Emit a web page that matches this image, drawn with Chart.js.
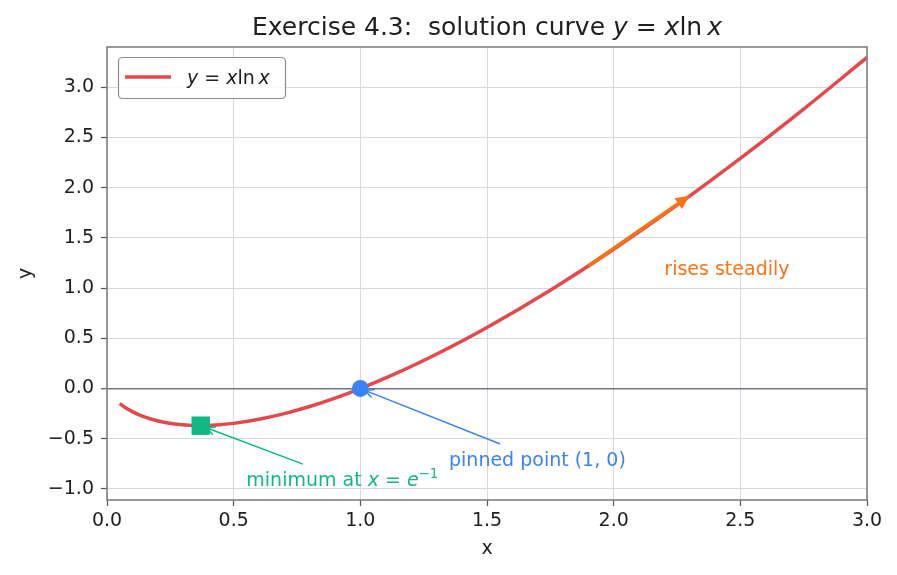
<!DOCTYPE html>
<html>
<head>
<meta charset="utf-8">
<script src="https://cdn.jsdelivr.net/npm/chart.js@4.4.1/dist/chart.umd.min.js"></script>
<style>
  html, body { margin: 0; background: #fff; }
  #wrap { width: 897px; height: 575px; }
</style>
</head>
<body>
<div id="wrap"><canvas id="c" width="897" height="575"></canvas></div>
<script>
/* ─── Data ─────────────────────────────────────────────────────────────── */

const curveX = [0.05, 0.07, 0.10, 0.13, 0.17, 0.21, 0.26, 0.31, 0.37, 0.43, 0.50, 0.60, 0.70, 0.80, 0.90,
                1.00, 1.15, 1.30, 1.50, 1.75, 2.00, 2.25, 2.50, 2.75, 3.00];
const curveY = [-0.150, -0.186, -0.230, -0.265, -0.301, -0.328, -0.350, -0.363, -0.368, -0.363, -0.347,
                -0.306, -0.250, -0.179, -0.095, 0.000, 0.161, 0.341, 0.608, 0.979, 1.386, 1.825, 2.291, 2.782, 3.296];

const minPoint = [0.37, -0.37];     // green square
const pinPoint = [1.0, 0.0];        // blue dot
const riseFrom = [1.9, 1.22];       // orange arrow tail
const riseTo   = [2.3, 1.92];       // orange arrow head

const minLabelAt  = [0.55, -0.90];
const pinLabelAt  = [1.35, -0.70];
const riseLabelAt = [2.20, 1.20];

const xLimits = [0, 3];
const yLimits = [-1.11, 3.4];
const tickStep = 0.5;

/* ─── Styling ──────────────────────────────────────────────────────────── */

const FONT   = '"DejaVu Sans", sans-serif';
const RED    = '#e5484d';
const GREEN  = '#10b981';
const BLUE   = '#3b82f6';
const ORANGE = '#f97316';
const INK    = '#1f1f1f';
const gridC  = '#d6dadf';

/* ─── Small drawing helpers ───────────────────────────────────────────── */

function fontOf(p, size) {
    const s = p.sup ? size * 0.7 : size;
    return (p.i ? 'italic ' : '') + s + 'px ' + FONT;
}

function richWidth(ctx, parts, size) {
    let w = 0;
    for (const p of parts) { ctx.font = fontOf(p, size); w += ctx.measureText(p.t).width; }
    return w;
}

function drawRich(ctx, parts, x, y, size, color, align) {
    const w = richWidth(ctx, parts, size);
    let cx = align === 'center' ? x - w / 2 : x;
    ctx.fillStyle = color;
    ctx.textAlign = 'left';
    ctx.textBaseline = 'alphabetic';
    for (const p of parts) {
        ctx.font = fontOf(p, size);
        ctx.fillText(p.t, cx, p.sup ? y - size * 0.42 : y);
        cx += ctx.measureText(p.t).width;
    }
    return w;
}

function openArrow(ctx, x0, y0, x1, y1, color, lw) {
    const a = Math.atan2(y1 - y0, x1 - x0), L = 9, h = 0.45;
    ctx.save();
    ctx.strokeStyle = color; ctx.lineWidth = lw; ctx.lineCap = 'round';
    ctx.beginPath();
    ctx.moveTo(x0, y0); ctx.lineTo(x1, y1);
    ctx.moveTo(x1 - L * Math.cos(a - h), y1 - L * Math.sin(a - h));
    ctx.lineTo(x1, y1);
    ctx.lineTo(x1 - L * Math.cos(a + h), y1 - L * Math.sin(a + h));
    ctx.stroke();
    ctx.restore();
}

function filledArrow(ctx, x0, y0, x1, y1, color, lw) {
    const a = Math.atan2(y1 - y0, x1 - x0), L = 14, W = 6.5;
    const bx = x1 - L * Math.cos(a), by = y1 - L * Math.sin(a);
    ctx.save();
    ctx.strokeStyle = color; ctx.fillStyle = color; ctx.lineWidth = lw;
    ctx.beginPath(); ctx.moveTo(x0, y0); ctx.lineTo(bx, by); ctx.stroke();
    ctx.beginPath();
    ctx.moveTo(x1, y1);
    ctx.lineTo(bx + W * Math.sin(a), by - W * Math.cos(a));
    ctx.lineTo(bx - W * Math.sin(a), by + W * Math.cos(a));
    ctx.closePath(); ctx.fill();
    ctx.restore();
}

// label at a data point (left aligned, vertically centred) with an arrow to a target
function annotate(ctx, chart, parts, at, target, color, shrink) {
    const xs = chart.scales.x, ys = chart.scales.y, size = 19;
    const lx = xs.getPixelForValue(at[0]), ly = ys.getPixelForValue(at[1]);
    const w = drawRich(ctx, parts, lx, ly + size * 0.36, size, color, 'left');
    const cx = lx + w / 2, cy = ly;
    const tx = xs.getPixelForValue(target[0]), ty = ys.getPixelForValue(target[1]);
    const dx = tx - cx, dy = ty - cy, d = Math.hypot(dx, dy);
    const t = Math.min((w / 2 + 4) / Math.abs(dx), (size * 0.58 + 4) / Math.abs(dy));
    openArrow(ctx, cx + t * dx, cy + t * dy, tx - dx / d * shrink, ty - dy / d * shrink, color, 1.5);
}

/* ─── Overlay plugin: title, labels, legend, annotations, frame ───────── */

const overlay = {
    id: 'overlay',
    afterDraw(chart) {
        const ctx = chart.ctx, a = chart.chartArea;
        const xs = chart.scales.x, ys = chart.scales.y;
        const mid = (a.left + a.right) / 2;

        // orange "rises" arrow
        filledArrow(ctx, xs.getPixelForValue(riseFrom[0]), ys.getPixelForValue(riseFrom[1]),
                         xs.getPixelForValue(riseTo[0]),   ys.getPixelForValue(riseTo[1]), ORANGE, 3.6);

        annotate(ctx, chart, [{ t: 'minimum at ' }, { t: 'x', i: 1 }, { t: ' = ' }, { t: 'e', i: 1 }, { t: '\u22121', sup: 1 }],
                 minLabelAt, minPoint, GREEN, 6);
        annotate(ctx, chart, [{ t: 'pinned point (1, 0)' }], pinLabelAt, pinPoint, BLUE, 5);
        drawRich(ctx, [{ t: 'rises steadily' }], xs.getPixelForValue(riseLabelAt[0]),
                 ys.getPixelForValue(riseLabelAt[1]) + 19 * 0.36, 19, ORANGE, 'left');

        // frame
        ctx.save();
        ctx.strokeStyle = '#808080'; ctx.lineWidth = 1.6;
        ctx.strokeRect(a.left, a.top, a.right - a.left, a.bottom - a.top);
        ctx.restore();

        // title
        drawRich(ctx, [{ t: 'Exercise 4.3:  solution curve ' }, { t: 'y', i: 1 }, { t: ' = ' },
                       { t: 'x', i: 1 }, { t: 'ln' }, { t: '\u2009' }, { t: 'x', i: 1 }], mid, 35, 25, INK, 'center');

        // axis titles
        ctx.save();
        ctx.fillStyle = INK; ctx.font = '19px ' + FONT;
        ctx.textAlign = 'center'; ctx.textBaseline = 'middle';
        ctx.fillText('x', mid, 549);
        ctx.translate(26, (a.top + a.bottom) / 2);
        ctx.rotate(-Math.PI / 2);
        ctx.fillText('y', 0, 0);
        ctx.restore();

        // legend
        ctx.save();
        ctx.fillStyle = 'rgba(255,255,255,0.85)';
        ctx.strokeStyle = '#8c8c8c'; ctx.lineWidth = 1.2;
        ctx.beginPath(); ctx.roundRect(118.5, 57.5, 167, 41, 4); ctx.fill(); ctx.stroke();
        ctx.strokeStyle = RED; ctx.lineWidth = 3.5;
        ctx.beginPath(); ctx.moveTo(125, 77); ctx.lineTo(171, 77); ctx.stroke();
        ctx.restore();
        drawRich(ctx, [{ t: 'y', i: 1 }, { t: ' = ' }, { t: 'x', i: 1 }, { t: 'ln' }, { t: '\u2009' }, { t: 'x', i: 1 }],
                 187, 84, 19, INK, 'left');
    }
};

/* ─── Chart ───────────────────────────────────────────────────────────── */

const fmt = v => v.toFixed(1).replace('-', '\u2212');

new Chart(document.getElementById('c'), {
    type: 'scatter',
    data: {
        datasets: [
            { data: curveX.map((x, i) => ({ x, y: curveY[i] })), showLine: true, borderColor: RED, borderWidth: 3.5,
              pointRadius: 0, tension: 0.4, order: 3 },
            { data: [{ x: minPoint[0], y: minPoint[1] }], pointStyle: 'rect', pointRadius: 13,
              backgroundColor: GREEN, borderColor: GREEN, borderWidth: 0, order: 1 },
            { data: [{ x: pinPoint[0], y: pinPoint[1] }], pointStyle: 'circle', pointRadius: 8.5,
              backgroundColor: BLUE, borderColor: BLUE, borderWidth: 0, order: 2 }
        ]
    },
    options: {
        responsive: false,
        animation: false,
        events: [],
        layout: { padding: { top: 47, right: 30, left: 0, bottom: 0 } },
        plugins: { legend: { display: false }, tooltip: { enabled: false }, title: { display: false } },
        scales: {
            x: {
                type: 'linear', min: xLimits[0], max: xLimits[1],
                afterFit: s => { s.height = 75; },
                border: { display: false },
                grid: { color: gridC, lineWidth: 1, tickLength: 6, tickColor: '#555', tickWidth: 1.2 },
                ticks: { stepSize: tickStep, color: INK, padding: 4, font: { family: FONT, size: 19 },
                         maxRotation: 0, callback: fmt }
            },
            y: {
                type: 'linear', min: yLimits[0], max: yLimits[1],
                afterFit: s => { s.width = 107; },
                border: { display: false },
                grid: {
                    color: c => c.tick && c.tick.value === 0 ? '#737880' : gridC,
                    lineWidth: c => c.tick && c.tick.value === 0 ? 1.5 : 1,
                    tickLength: 6, tickColor: '#555', tickWidth: 1.2
                },
                ticks: { stepSize: tickStep, includeBounds: false, color: INK, padding: 7,
                         font: { family: FONT, size: 19 }, callback: fmt }
            }
        }
    },
    plugins: [overlay]
});
</script>
</body>
</html>
